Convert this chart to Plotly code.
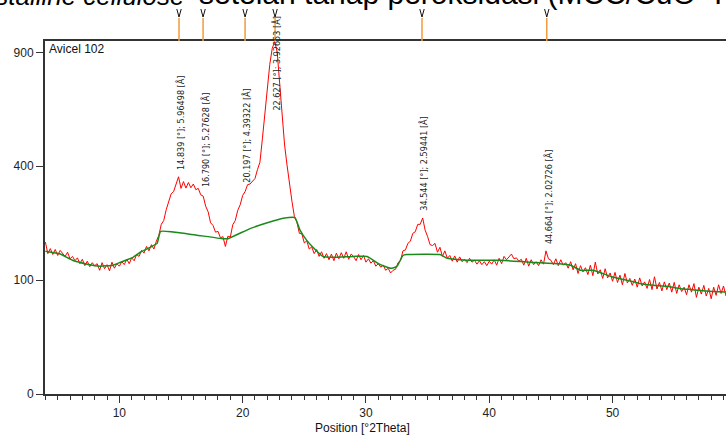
import numpy as np
import plotly.graph_objects as go

# Scan grid (°2Theta) and observed intensity (counts)
two_theta_start = 4.0
two_theta_step = 0.2
observed_counts = [
    178, 152, 163, 150, 161, 148, 159, 153, 146, 155,   # 4.0
    141, 146, 137, 143, 131, 140, 127, 136, 125, 133,   # 6.0
    127, 131, 118, 133, 121, 129, 117, 134, 122, 131,   # 8.0
    126, 135, 129, 140, 131, 143, 137, 150, 146, 159,   # 10.0
    153, 168, 158, 172, 162, 180, 194, 222, 232, 262,   # 12.0
    284, 309, 316, 341, 364, 326, 348, 327, 345, 328,   # 14.0
    340, 322, 326, 306, 302, 272, 256, 226, 219, 202,   # 16.0
    204, 188, 191, 168, 192, 190, 221, 232, 260, 276,   # 18.0
    304, 316, 338, 340, 350, 358, 388, 414, 502, 602,   # 20.0
    712, 838, 922, 958, 902, 758, 592, 478, 404, 338,   # 22.0
    286, 242, 228, 199, 198, 176, 181, 162, 167, 152,   # 24.0
    161, 146, 156, 142, 152, 139, 151, 137, 153, 141,   # 26.0
    154, 142, 156, 140, 151, 146, 137, 150, 139, 148,   # 28.0
    134, 141, 132, 137, 126, 131, 124, 128, 118, 122,   # 30.0
    113, 118, 120, 133, 137, 158, 160, 175, 180, 199,   # 32.0
    203, 222, 222, 239, 207, 191, 172, 170, 175, 155,   # 34.0
    166, 146, 158, 142, 148, 136, 147, 134, 145, 135,   # 36.0
    140, 133, 142, 134, 138, 130, 137, 129, 135, 127,   # 38.0
    136, 130, 139, 128, 142, 131, 146, 139, 144, 151,   # 40.0
    141, 143, 136, 140, 128, 142, 126, 139, 129, 135,   # 42.0
    127, 139, 130, 158, 141, 138, 129, 141, 127, 139,   # 44.0
    128, 133, 122, 135, 119, 131, 112, 127, 115, 123,   # 46.0
    110, 128, 108, 134, 111, 119, 103, 121, 104, 113,   # 48.0
    98, 114, 96, 109, 92, 112, 95, 103, 91, 102,        # 50.0
    88, 104, 90, 97, 86, 101, 84, 106, 85, 96,          # 52.0
    82, 97, 84, 95, 80, 96, 78, 92, 81, 88,             # 54.0
    76, 92, 80, 94, 72, 88, 77, 91, 74, 86,             # 56.0
    70, 88, 75, 92, 78, 90, 74,                         # 58.0
]
two_theta = [round(two_theta_start + i * two_theta_step, 2) for i in range(len(observed_counts))]

# Fitted background
background_theta = [4.0, 5.2, 6.2, 7.4, 8.4, 9.5, 10.1, 11.1, 11.7, 12.5, 13.06, 13.35,
                    15.7, 18.4, 18.8, 20.6, 22.0, 23.3, 24.24, 24.65, 25.2, 25.7, 26.5,
                    27.3, 29.0, 30.1, 31.1, 32.0, 32.5, 33.0, 33.3, 36.0, 36.6, 38.2,
                    40.9, 43.3, 45.7, 46.6, 47.4, 48.4, 49.2, 50.0, 51.2, 52.2, 53.3,
                    54.4, 55.5, 56.5, 57.6, 59.2]
background_counts = [157, 151, 138, 130, 126, 128, 134, 144, 155, 166, 175, 204,
                     197, 186, 186, 211, 226, 238, 240, 207, 182, 166, 146,
                     144, 146, 146, 130, 122, 125, 148, 150, 150, 142, 138,
                     138, 134, 131, 128, 118, 118, 112, 105.5, 99.6, 94.3, 91,
                     89.4, 85.6, 84, 81.8, 80.2]

# Identified reflections
peak_positions = [14.839, 16.790, 20.197, 22.627, 34.544, 44.664]
peak_d_spacings = ["5.96498", "5.27628", "4.39322", "3.92653", "2.59441", "2.02726"]

y_tick_counts = [0, 100, 400, 900]
x_tick_values = [10, 20, 30, 40, 50]

sample_name = "Avicel 102"
caption_italic = "microcrystalline cellulose"
caption_rest = "setelah tahap peroksidasi (MCC/CuO- K"

# Layout geometry
W, H = 726, 437
M_L, M_R, M_T, M_B = 45, 0, 41, 43
plot_h = H - M_T - M_B
plot_w = W - M_L - M_R
y_top = 31.0                      # sqrt(counts) at top of the frame
x_range = [3.97, 59.2]

font_main = "Liberation Sans, Arial, sans-serif"
axis_col = "#333333"

fig = go.Figure()

fig.add_trace(go.Scatter(
    x=two_theta, y=np.sqrt(observed_counts), mode="lines",
    line=dict(color="#ff0000", width=1), hoverinfo="skip", showlegend=False))
fig.add_trace(go.Scatter(
    x=background_theta, y=np.sqrt(background_counts), mode="lines",
    line=dict(color="#1a8a1a", width=1.5, shape="spline", smoothing=0.4),
    hoverinfo="skip", showlegend=False))

shapes = []
annotations = []

# Reflection markers above the frame: orange stick with a small chevron on top
for pos in peak_positions:
    shapes.append(dict(type="path", xref="x", yref="paper", xsizemode="pixel", ysizemode="pixel",
                       xanchor=pos, yanchor=1, path="M0,0 L0,23",
                       line=dict(color="#f39a3a", width=1.5), layer="above"))
    shapes.append(dict(type="path", xref="x", yref="paper", xsizemode="pixel", ysizemode="pixel",
                       xanchor=pos, yanchor=1, path="M-2.2,32 L0,24 L2.2,32",
                       line=dict(color="#111111", width=1), layer="above"))

# Peak labels, standing vertically above each reflection
label_cap = 24.1
for pos, d in zip(peak_positions, peak_d_spacings):
    y_at_peak = float(np.sqrt(np.interp(pos, two_theta, observed_counts)))
    annotations.append(dict(
        x=pos, y=min(y_at_peak, label_cap), xref="x", yref="y",
        text=f"{pos:.3f} [°]; {d} [Å]", textangle=-90, showarrow=False,
        xanchor="center", yanchor="bottom", xshift=2, yshift=7,
        font=dict(family="Liberation Sans Narrow, DejaVu Sans Condensed, Arial Narrow, sans-serif",
                  size=9, color="#222222")))

# Sample name in the corner of the frame
annotations.append(dict(x=0, y=1, xref="paper", yref="paper", text=sample_name,
                        showarrow=False, xanchor="left", yanchor="top", xshift=2, yshift=1,
                        font=dict(family=font_main, size=12, color="#111111")))

# Axis title
annotations.append(dict(x=29.7, y=-(428 - (H - M_B)) / plot_h, xref="x", yref="paper",
                        text="Position [°2Theta]", showarrow=False,
                        xanchor="center", yanchor="middle",
                        font=dict(family=font_main, size=12, color="#111111")))

# Caption line above the chart (only its lower part falls inside the page)
annotations.append(dict(x=(187 - M_L) / plot_w, y=1 + (M_T - 13) / plot_h,
                        xref="paper", yref="paper",
                        text=f"<i>{caption_italic}</i>", showarrow=False,
                        xanchor="right", yanchor="bottom",
                        font=dict(family=font_main, size=26, color="#000000")))
annotations.append(dict(x=(197 - M_L) / plot_w, y=1 + (M_T - 12) / plot_h,
                        xref="paper", yref="paper",
                        text=caption_rest, showarrow=False,
                        xanchor="left", yanchor="bottom",
                        font=dict(family=font_main, size=30, color="#000000")))

fig.update_layout(
    width=W, height=H,
    margin=dict(l=M_L, r=M_R, t=M_T, b=M_B, pad=0),
    paper_bgcolor="white", plot_bgcolor="white",
    showlegend=False,
    shapes=shapes, annotations=annotations,
    xaxis=dict(range=x_range, tickvals=x_tick_values, ticks="outside", ticklen=7,
               tickwidth=1.2, tickcolor=axis_col,
               minor=dict(dtick=1, tick0=0, ticks="outside", ticklen=4, tickcolor=axis_col, tickwidth=1),
               showline=True, linecolor=axis_col, linewidth=2, mirror=True,
               showgrid=False, zeroline=False,
               tickfont=dict(family=font_main, size=12, color="#222222")),
    yaxis=dict(range=[0, y_top], tickvals=[float(np.sqrt(v)) for v in y_tick_counts],
               ticktext=[str(v) for v in y_tick_counts],
               ticks="outside", ticklen=7, tickwidth=1.2, tickcolor=axis_col,
               showline=True, linecolor=axis_col, linewidth=2,
               showgrid=False, zeroline=False,
               tickfont=dict(family=font_main, size=12, color="#222222")),
)

fig.write_html("out.html")
